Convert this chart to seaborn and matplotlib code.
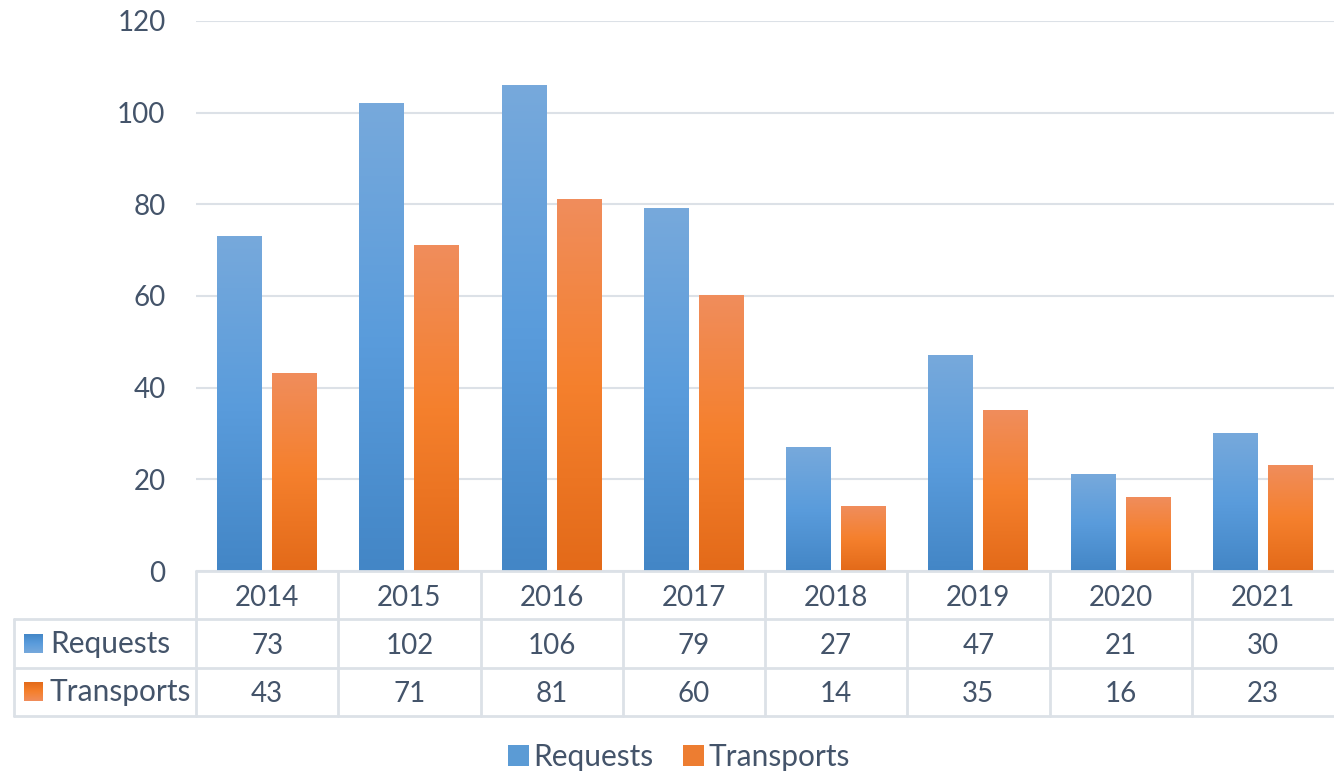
import numpy as np
import pandas as pd
import matplotlib
matplotlib.use("Agg")
import matplotlib.pyplot as plt
import seaborn as sns
from matplotlib.colors import LinearSegmentedColormap
from matplotlib.patches import Patch, Rectangle

years = ["2014", "2015", "2016", "2017", "2018", "2019", "2020", "2021"]
requests = [73, 102, 106, 79, 27, 47, 21, 30]
transports = [43, 71, 81, 60, 14, 35, 16, 23]
series_names = ["Requests", "Transports"]
yticks = [0, 20, 40, 60, 80, 100, 120]

TEXT = "#44546A"
GRID = "#DCE1E7"
blue_grad = ["#77A9DB", "#5A9CDC", "#4386C6"]
orange_grad = ["#F08D5C", "#F5802D", "#E36A19"]
mid_colors = ["#5B9BD5", "#ED7D31"]
FS_NUM = 20
FS_WORD = 21.5

sns.set_theme(style="white")
plt.rcParams["font.family"] = ["Lato", "DejaVu Sans"]

W, H = 1334, 771
fig = plt.figure(figsize=(W / 100, H / 100), dpi=100)
ax = fig.add_axes([196 / W, (H - 571) / H, (W - 196) / W, (571 - 21) / H])

df = pd.DataFrame({
    "year": years * 2,
    "value": requests + transports,
    "series": ["Requests"] * len(years) + ["Transports"] * len(years),
})
sns.barplot(data=df, x="year", y="value", hue="series", order=years,
            hue_order=series_names, palette=mid_colors, width=0.773, gap=0.182,
            legend=False, ax=ax, zorder=2)

cmaps = [LinearSegmentedColormap.from_list("b", blue_grad[::-1]),
         LinearSegmentedColormap.from_list("o", orange_grad[::-1])]
grad = np.linspace(0, 1, 256).reshape(-1, 1)
bars = [p for p in ax.patches if isinstance(p, Rectangle)]
for i, p in enumerate(bars):
    s = 0 if i < len(years) else 1
    x0, w, h = p.get_x(), p.get_width(), p.get_height()
    ax.imshow(grad, cmap=cmaps[s], aspect="auto", origin="lower",
              extent=[x0, x0 + w, 0, h], interpolation="bilinear", zorder=3)
    p.set_facecolor("none")
    p.set_edgecolor("none")

ax.set_xlim(-0.5, 7.5)
ax.set_ylim(0, 120)
ax.set_yticks(yticks)
ax.set_yticklabels([str(v) for v in yticks], fontsize=FS_NUM, color=TEXT)
ax.tick_params(axis="y", length=0, pad=22)
ax.set_xticks([])
ax.set_xlabel("")
ax.set_ylabel("")
ax.grid(axis="y", color=GRID, linewidth=1.5, zorder=0)
ax.set_axisbelow(True)
for sp in ax.spines.values():
    sp.set_visible(False)

# data table
tax = fig.add_axes([14 / W, (H - 716) / H, (W - 14) / W, (716 - 571) / H])
xl = -0.5 - 182 / 142.25
tax.axis("off")
lw = 2
tax.plot([-0.5, 7.5], [0, 0], color=GRID, lw=lw, clip_on=False)
for yy in [1, 2, 3]:
    tax.plot([xl, 7.5], [yy, yy], color=GRID, lw=lw, clip_on=False)
tax.plot([xl, xl], [1, 3], color=GRID, lw=lw, clip_on=False)
for k in range(8):
    tax.plot([k - 0.5, k - 0.5], [0, 3], color=GRID, lw=lw, clip_on=False)
dy = 0.05
for k, yv in enumerate(years):
    tax.text(k, 0.5 + dy, yv, ha="center", va="center", fontsize=FS_NUM, color=TEXT)
    tax.text(k, 1.5 + dy, str(requests[k]), ha="center", va="center", fontsize=FS_NUM, color=TEXT)
    tax.text(k, 2.5 + dy, str(transports[k]), ha="center", va="center", fontsize=FS_NUM, color=TEXT)
px = 1 / 142.25
for r, name in enumerate(series_names):
    x0 = xl + 10 * px
    tax.imshow(grad, cmap=cmaps[r], aspect="auto", origin="upper",
               extent=[x0, x0 + 19 * px, 1.5 + r + 0.19, 1.5 + r - 0.19],
               interpolation="bilinear")
    tax.text(xl + 36 * px, 1.5 + r, name, ha="left", va="center",
             fontsize=FS_WORD, color=TEXT)
tax.set_xlim(xl, 7.5)
tax.set_ylim(3, 0)

handles = [Patch(facecolor=c, edgecolor="none") for c in mid_colors]
fig.legend(handles, series_names, loc="center", bbox_to_anchor=(679 / W, (H - 757) / H),
           ncol=2, frameon=False, fontsize=FS_WORD, labelcolor=TEXT,
           handlelength=0.7, handleheight=0.7, handletextpad=0.15, columnspacing=1.0)

fig.savefig("out.png", dpi=100, facecolor="white")
